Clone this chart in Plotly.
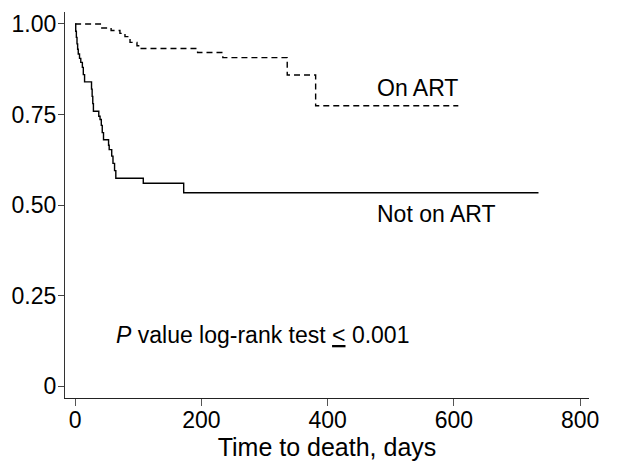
import plotly.graph_objects as go

# Kaplan-Meier step data (time in days, survival probability)
not_art_t = [0, 1, 2, 3, 4, 5, 7, 9, 11.5, 13, 15, 26, 27, 28, 29, 37.5, 39.5, 41.5, 43, 45,
             53, 54, 58, 60, 62.5, 64.5, 108, 172, 734]
not_art_s = [1.00, 0.98, 0.963, 0.945, 0.93, 0.917, 0.905, 0.894, 0.88, 0.86, 0.84, 0.82,
             0.80, 0.78, 0.759, 0.745, 0.736, 0.72, 0.70, 0.68, 0.665, 0.653, 0.635, 0.615,
             0.595, 0.574, 0.56, 0.534, 0.534]

on_art_t = [0, 40, 57, 71, 79, 87, 98, 103, 194, 234, 336, 381, 607]
on_art_s = [1.00, 0.989, 0.982, 0.974, 0.965, 0.949, 0.94, 0.932, 0.921, 0.907, 0.859,
            0.774, 0.774]

x_ticks = [0, 200, 400, 600, 800]
y_ticks = [0, 0.25, 0.5, 0.75, 1.0]
y_tick_text = ["0", "0.25", "0.50", "0.75", "1.00"]

FONT = "Liberation Sans, Arial, Helvetica, sans-serif"

fig = go.Figure()
fig.add_trace(go.Scatter(x=on_art_t, y=on_art_s, mode="lines", line_shape="hv",
                         line=dict(color="black", width=1.4, dash="6px,4px"),
                         name="On ART", showlegend=False))
fig.add_trace(go.Scatter(x=not_art_t, y=not_art_s, mode="lines", line_shape="hv",
                         line=dict(color="black", width=1.4),
                         name="Not on ART", showlegend=False))

fig.add_annotation(x=475, y=0.822, text="On ART", showarrow=False, xanchor="left",
                   yanchor="middle", font=dict(size=23, color="black", family=FONT))
fig.add_annotation(x=475, y=0.474, text="Not on ART", showarrow=False, xanchor="left",
                   yanchor="middle", font=dict(size=23, color="black", family=FONT))
fig.add_annotation(x=62, y=0.140, text="<i>P</i> value log-rank test <u>&lt;</u> 0.001",
                   showarrow=False, xanchor="left", yanchor="middle",
                   font=dict(size=23, color="black", family=FONT))

fig.update_layout(
    width=628, height=468,
    margin=dict(l=57, r=47, t=4, b=78),
    paper_bgcolor="white", plot_bgcolor="white",
    font=dict(family=FONT, size=23, color="black"),
    xaxis=dict(range=[-16, 814], tickvals=x_ticks, showgrid=False, zeroline=False,
               showline=True, linecolor="#222", linewidth=1.2,
               ticks="outside", ticklen=7, tickcolor="#555", tickwidth=1.2,
               ticklabelstandoff=-6, tickfont=dict(size=23),
               title=dict(text="Time to death, days", font=dict(size=25), standoff=3)),
    yaxis=dict(range=[-0.033, 1.033], tickvals=y_ticks, ticktext=y_tick_text,
               showgrid=False, zeroline=False, showline=True, linecolor="#333",
               linewidth=1.2, ticks="outside", ticklen=6, tickcolor="#444", tickwidth=1.2,
               ticklabelstandoff=-3, tickfont=dict(size=23)),
)

fig.write_html("out.html")
